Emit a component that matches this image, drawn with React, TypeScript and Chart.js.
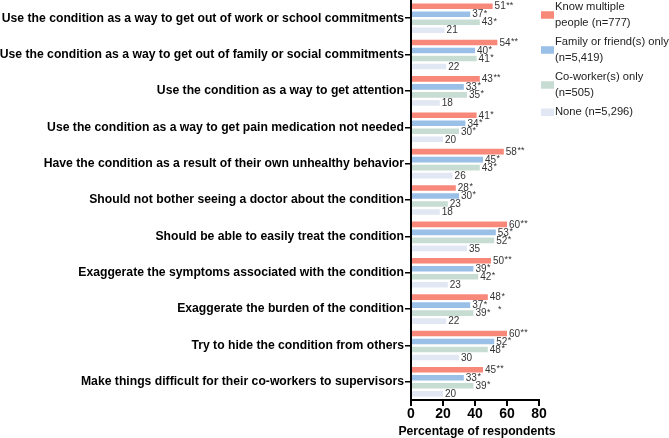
import React, { useEffect, useRef } from "react";
import { Chart, registerables } from "chart.js";

Chart.register(...registerables);

const categories = [
  "Use the condition as a way to get out of work or school commitments",
  "Use the condition as a way to get out of family or social commitments",
  "Use the condition as a way to get attention",
  "Use the condition as a way to get pain medication not needed",
  "Have the condition as a result of their own unhealthy behavior",
  "Should not bother seeing a doctor about the condition",
  "Should be able to easily treat the condition",
  "Exaggerate the symptoms associated with the condition",
  "Exaggerate the burden of the condition",
  "Try to hide the condition from others",
  "Make things difficult for their co-workers to supervisors",
];

const knowMultiple = [51, 54, 43, 41, 58, 28, 60, 50, 48, 60, 45];
const familyFriend = [37, 40, 33, 34, 45, 30, 53, 39, 37, 52, 33];
const coworker = [43, 41, 35, 30, 43, 23, 52, 42, 39, 48, 39];
const none = [21, 22, 18, 20, 26, 18, 35, 23, 22, 30, 20];

const knowMultipleStars = ["**", "**", "**", "*", "**", "*", "**", "**", "*", "**", "**"];
const familyFriendStars = ["*", "*", "*", "*", "*", "*", "*", "*", "*", "*", "*"];
const coworkerStars = ["*", "*", "*", "*", "*", "", "*", "*", "*", "*", "*"];
const noneStars = ["", "", "", "", "", "", "", "", "", "", ""];

// a stray significance mark in the original figure (category index, value, text)
const strayMarkCategory = 8;
const strayMarkValue = 55.5;
const strayMarkText = "*";

const seriesNames = [
  ["Know multiple", "people (n=777)"],
  ["Family or friend(s) only", "(n=5,419)"],
  ["Co-worker(s) only", "(n=505)"],
  ["None (n=5,296)"],
];
const seriesColors = ["#F7887A", "#9AC0E8", "#C7DDD3", "#E2E8F3"];

const xTicks = [0, 20, 40, 60, 80];
const xTitle = "Percentage of respondents";

const FONT = "'Liberation Sans', Arial, Helvetica, sans-serif";

export default function App() {
  const canvasRef = useRef<HTMLCanvasElement | null>(null);

  useEffect(() => {
    const canvas = canvasRef.current;
    if (!canvas) return;
    const starsAll = [knowMultipleStars, familyFriendStars, coworkerStars, noneStars];

    const labelPlugin = {
      id: "barLabels",
      afterDatasetsDraw(chart: any) {
        const ctx = chart.ctx;
        ctx.save();
        chart.data.datasets.forEach((ds: any, di: number) => {
          const meta = chart.getDatasetMeta(di);
          meta.data.forEach((bar: any, i: number) => {
            const v = String(ds.data[i]);
            const x = bar.x + 2;
            const y = bar.y;
            ctx.fillStyle = "#333";
            ctx.textAlign = "left";
            ctx.textBaseline = "middle";
            ctx.font = `10px ${FONT}`;
            ctx.fillText(v, x, y + 0.5);
            const w = ctx.measureText(v).width;
            const s = starsAll[di][i];
            if (s) {
              ctx.font = `9px ${FONT}`;
              ctx.fillText(s, x + w + 0.5, y - 1);
            }
          });
        });
        const xs = chart.scales.x;
        const ys = chart.scales.y;
        ctx.font = `9px ${FONT}`;
        ctx.fillStyle = "#333";
        ctx.textAlign = "center";
        ctx.textBaseline = "middle";
        ctx.fillText(strayMarkText, xs.getPixelForValue(strayMarkValue), ys.getPixelForValue(strayMarkCategory));
        ctx.restore();
      },
    };

    const legendPlugin = {
      id: "sideLegend",
      afterDraw(chart: any) {
        const ctx = chart.ctx;
        const area = chart.chartArea;
        ctx.save();
        ctx.font = `11.2px ${FONT}`;
        ctx.textBaseline = "middle";
        ctx.textAlign = "left";
        const boxX = area.right + 2;
        const textX = boxX + 14;
        let y = 7;
        const lh = 15.5;
        seriesNames.forEach((lines, i) => {
          const blockMid = y + ((lines.length - 1) * lh) / 2;
          ctx.fillStyle = seriesColors[i];
          ctx.fillRect(boxX, blockMid - 3.5, 13, 7.5);
          ctx.fillStyle = "#222";
          lines.forEach((t, li) => ctx.fillText(t, textX, y + li * lh));
          y += lines.length * lh + 4;
        });
        // x-axis title
        ctx.font = `bold 12.2px ${FONT}`;
        ctx.fillStyle = "#000";
        ctx.textAlign = "center";
        ctx.fillText(xTitle, (area.left + area.right) / 2 + 2, 432);
        ctx.restore();
      },
    };

    const chart = new Chart(canvas, {
      type: "bar",
      data: {
        labels: categories,
        datasets: [knowMultiple, familyFriend, coworker, none].map((d, i) => ({
          label: seriesNames[i].join(" "),
          data: d,
          backgroundColor: seriesColors[i],
          borderWidth: 0,
          categoryPercentage: 0.88,
          barPercentage: 0.7,
        })),
      },
      options: {
        indexAxis: "y",
        animation: false,
        responsive: false,
        maintainAspectRatio: false,
        devicePixelRatio: 1,
        layout: { padding: { top: 0, right: 130, left: 0, bottom: 0 } },
        plugins: { legend: { display: false }, tooltip: { enabled: false } },
        scales: {
          x: {
            min: 0,
            max: 80,
            afterBuildTicks(scale: any) {
              scale.ticks = xTicks.map((v) => ({ value: v }));
            },
            afterFit(scale: any) {
              scale.height = 38;
              scale.paddingLeft = 0;
              scale.paddingRight = 0;
            },
            border: { color: "#000", width: 2 },
            grid: { drawOnChartArea: false, drawTicks: true, tickLength: 6, color: "#000", lineWidth: 2 },
            ticks: {
              color: "#000",
              padding: 0,
              font: { family: FONT, size: 14, weight: "bold" },
              maxRotation: 0,
            },
            title: { display: false },
          },
          y: {
            afterFit(scale: any) {
              scale.width = 411;
              scale.paddingTop = 0;
              scale.paddingBottom = 0;
            },
            border: { color: "#000", width: 2 },
            grid: { drawOnChartArea: false, drawTicks: true, tickLength: 6, color: "#000", lineWidth: 1.5, offset: false },
            ticks: {
              color: "#000",
              padding: 1,
              autoSkip: false,
              font: { family: FONT, size: 12.2, weight: "bold" },
            },
          },
        },
      },
      plugins: [labelPlugin, legendPlugin],
    } as any);

    return () => chart.destroy();
  }, []);

  return (
    <div style={{ position: "fixed", left: 0, top: 0, width: 669, height: 438, background: "#fff" }}>
      <canvas ref={canvasRef} width={669} height={438} style={{ width: 669, height: 438 }} />
    </div>
  );
}
